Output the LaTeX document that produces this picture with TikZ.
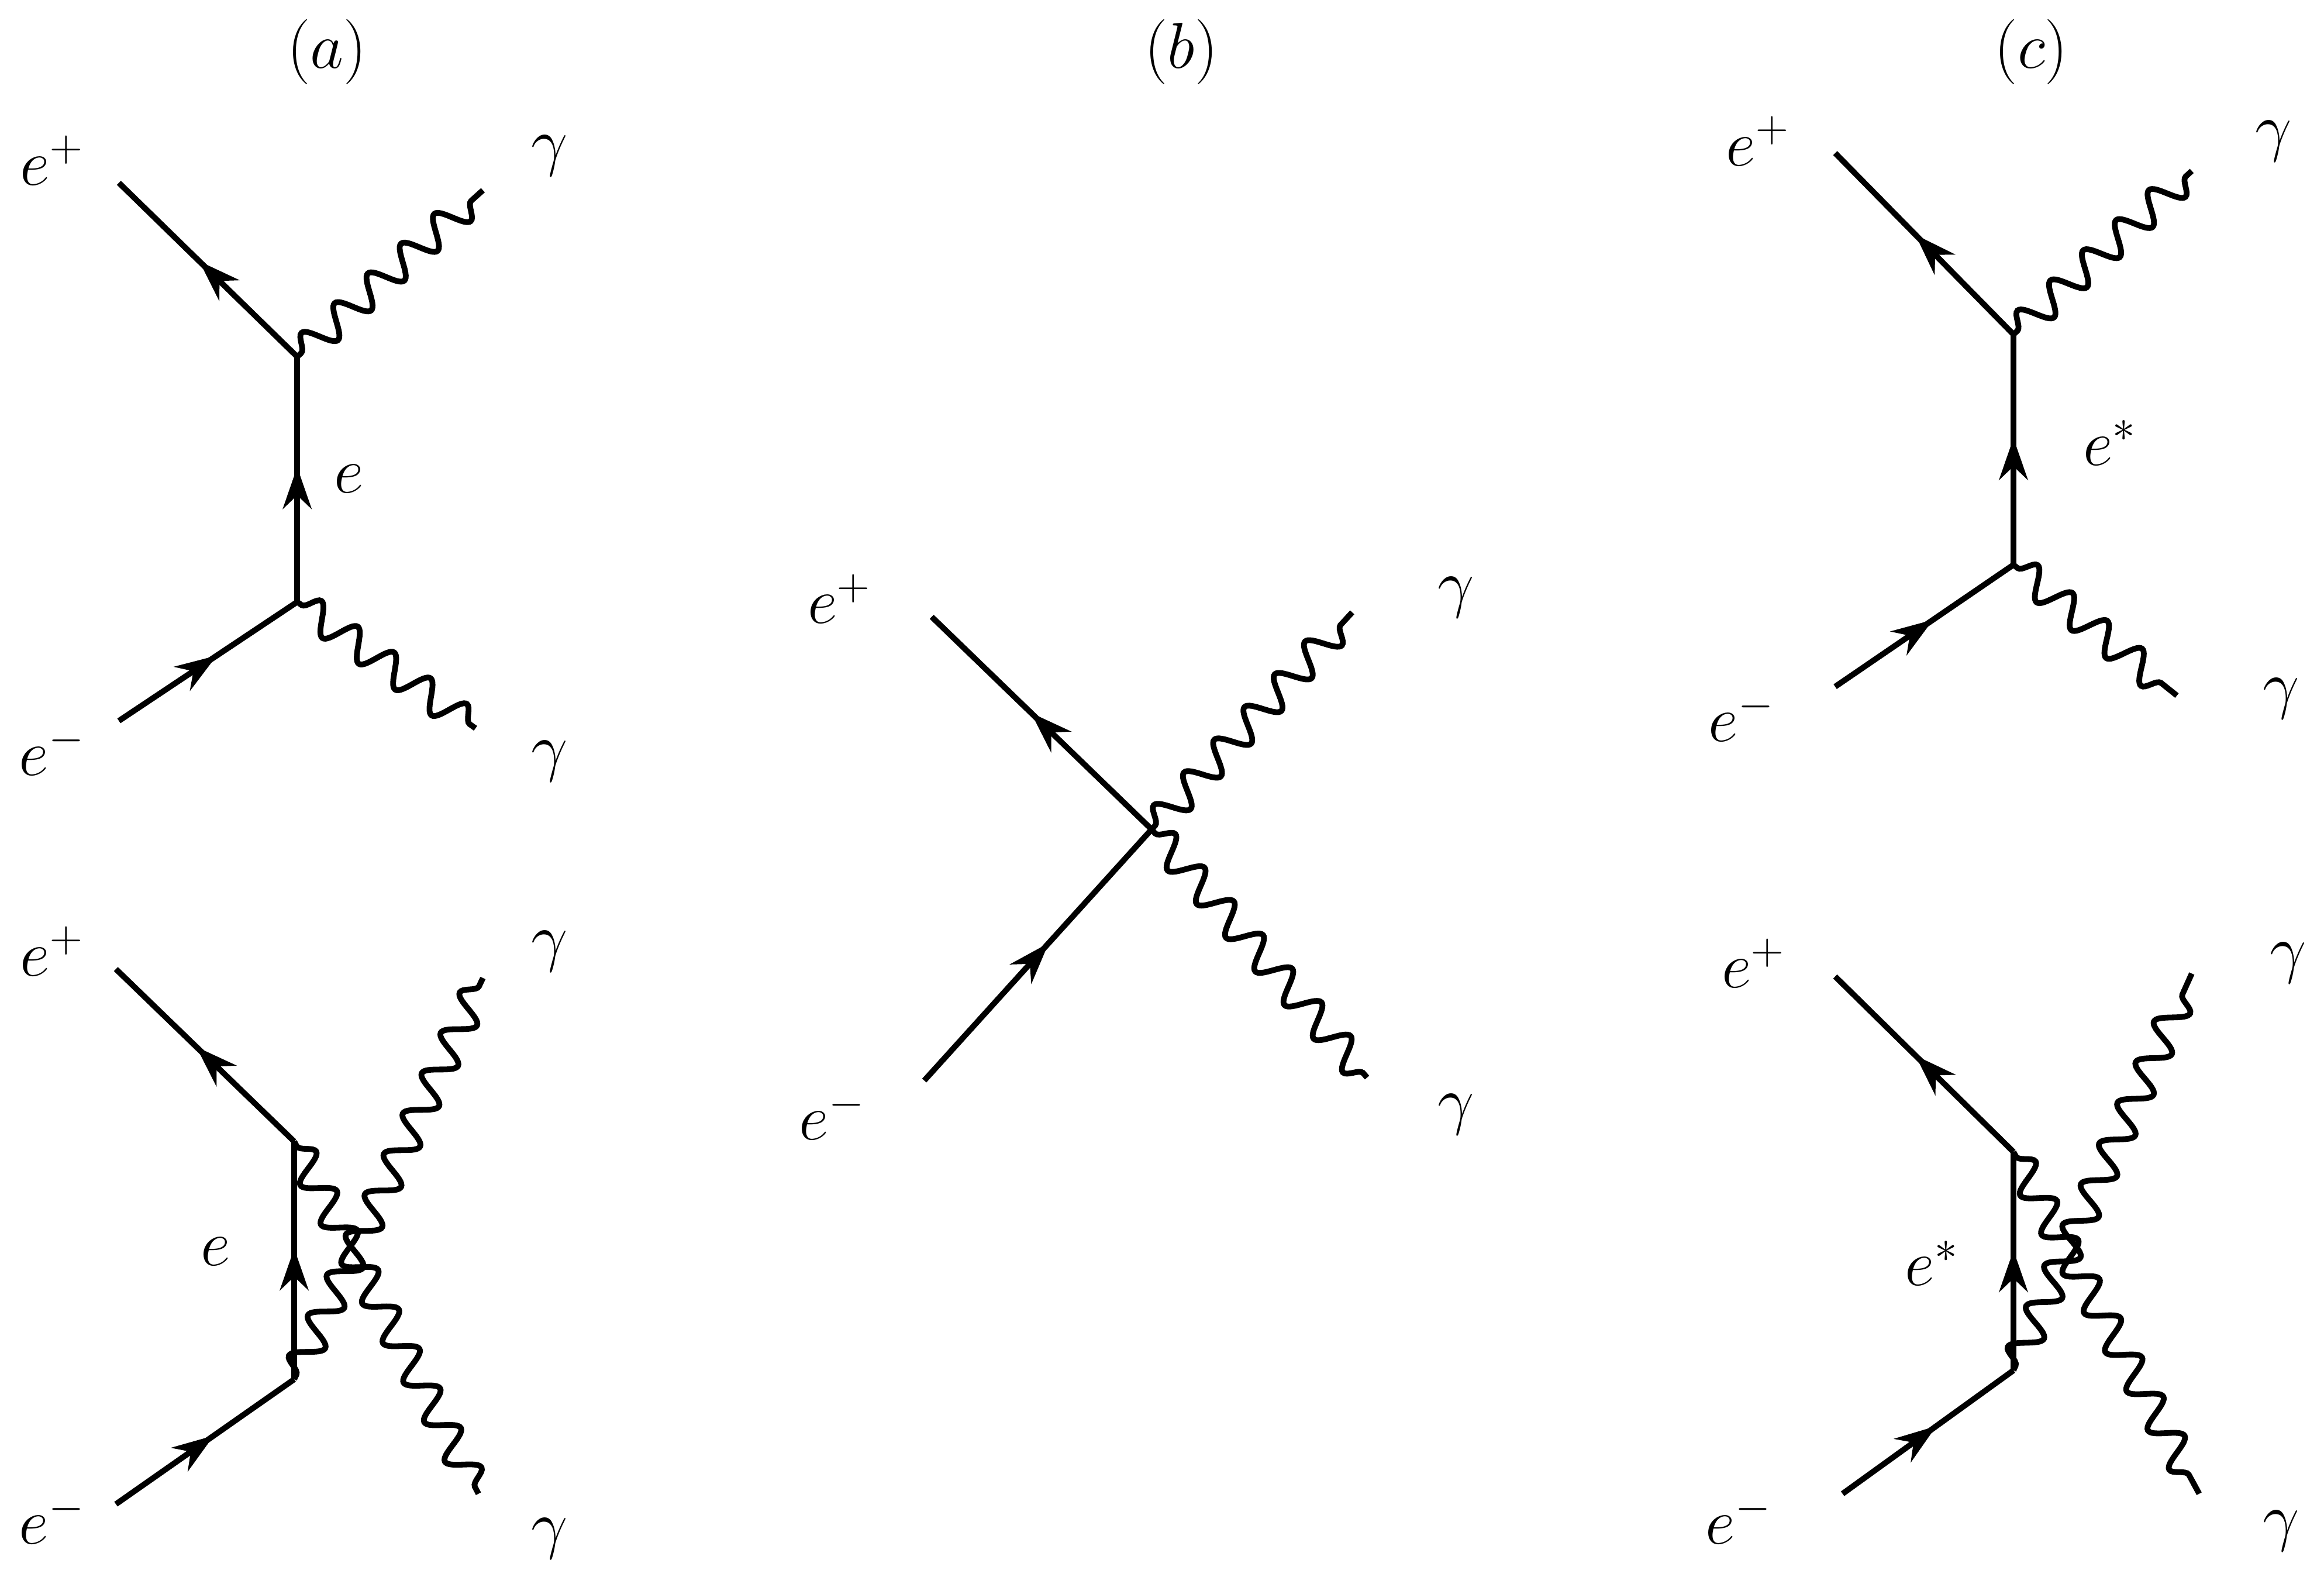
\documentclass[tikz,border=0pt]{standalone}
\usetikzlibrary{decorations.pathmorphing,decorations.markings,arrows.meta}
\begin{document}
\begin{tikzpicture}[x=0.02cm,y=-0.02cm,
  fer/.style={line width=2.2pt,postaction={decorate},decoration={markings,mark=at position 0.55 with {\arrow{Stealth[length=16pt,width=11pt]}}}},
  pho/.style={line width=2.2pt,decorate,decoration={snake,amplitude=0.2cm,segment length=0.6cm,pre length=2pt,post length=2pt}},
  lab/.style={font=\fontsize{25}{30}\selectfont}]
\useasboundingbox (0,0) rectangle (1564,1061);
% (a) top
\coordinate (a1) at (200,240); \coordinate (a2) at (200,405);
\coordinate (ap) at (80,123); \coordinate (am) at (80,485);
\coordinate (ag1) at (325,128); \coordinate (ag2) at (320,490);
\draw[fer] (a1) -- (ap);
\draw[fer] (a2) -- (a1);
\draw[fer] (am) -- (a2);
\draw[pho] (a1) -- (ag1);
\draw[pho] (a2) -- (ag2);
\node[lab] (la) at (220,35) {$(a)$};
\node[lab] (l1) at (35,108) {$e^+$};
\node[lab] (l2) at (370,105) {$\gamma$};
\node[lab] (l3) at (235,322) {$e$};
\node[lab] (l4) at (35,505) {$e^-$};
\node[lab] (l5) at (370,512) {$\gamma$};
% (a) bottom
\coordinate (b1) at (198,768); \coordinate (b2) at (198,928);
\coordinate (bp) at (78,652); \coordinate (bm) at (78,1012);
\coordinate (bg1) at (325,658); \coordinate (bg2) at (322,1005);
\draw[fer] (b1) -- (bp);
\draw[fer] (b2) -- (b1);
\draw[fer] (bm) -- (b2);
\draw[pho] (b1) -- (bg2);
\draw[pho] (b2) -- (bg1);
\node[lab] (m1) at (35,640) {$e^+$};
\node[lab] (m2) at (370,640) {$\gamma$};
\node[lab] (m3) at (145,842) {$e$};
\node[lab] (m4) at (35,1022) {$e^-$};
\node[lab] (m5) at (370,1035) {$\gamma$};
% (b)
\coordinate (c0) at (775,558);
\coordinate (cp) at (627,415); \coordinate (cm) at (622,727);
\coordinate (cg1) at (910,412); \coordinate (cg2) at (920,725);
\draw[fer] (c0) -- (cp);
\draw[fer] (cm) -- (c0);
\draw[pho] (c0) -- (cg1);
\draw[pho] (c0) -- (cg2);
\node[lab] (lb) at (795,35) {$(b)$};
\node[lab] (n1) at (565,403) {$e^+$};
\node[lab] (n2) at (980,402) {$\gamma$};
\node[lab] (n3) at (560,750) {$e^-$};
\node[lab] (n4) at (980,750) {$\gamma$};
% (c) top
\coordinate (d1) at (1355,225); \coordinate (d2) at (1355,380);
\coordinate (dp) at (1235,103); \coordinate (dm) at (1235,462);
\coordinate (dg1) at (1475,115); \coordinate (dg2) at (1465,468);
\draw[fer] (d1) -- (dp);
\draw[fer] (d2) -- (d1);
\draw[fer] (dm) -- (d2);
\draw[pho] (d1) -- (dg1);
\draw[pho] (d2) -- (dg2);
\node[lab] (lc) at (1367,35) {$(c)$};
\node[lab] (o1) at (1183,95) {$e^+$};
\node[lab] (o2) at (1530,95) {$\gamma$};
\node[lab] (o3) at (1420,298) {$e^*$};
\node[lab] (o4) at (1172,482) {$e^-$};
\node[lab] (o5) at (1535,470) {$\gamma$};
% (c) bottom
\coordinate (e1) at (1355,775); \coordinate (e2) at (1355,922);
\coordinate (ep) at (1235,657); \coordinate (em) at (1240,1005);
\coordinate (eg1) at (1475,655); \coordinate (eg2) at (1480,1005);
\draw[fer] (e1) -- (ep);
\draw[fer] (e2) -- (e1);
\draw[fer] (em) -- (e2);
\draw[pho] (e1) -- (eg2);
\draw[pho] (e2) -- (eg1);
\node[lab] (p1) at (1180,648) {$e^+$};
\node[lab] (p2) at (1540,648) {$\gamma$};
\node[lab] (p3) at (1300,850) {$e^*$};
\node[lab] (p4) at (1170,1022) {$e^-$};
\node[lab] (p5) at (1535,1030) {$\gamma$};
\end{tikzpicture}
\end{document}
